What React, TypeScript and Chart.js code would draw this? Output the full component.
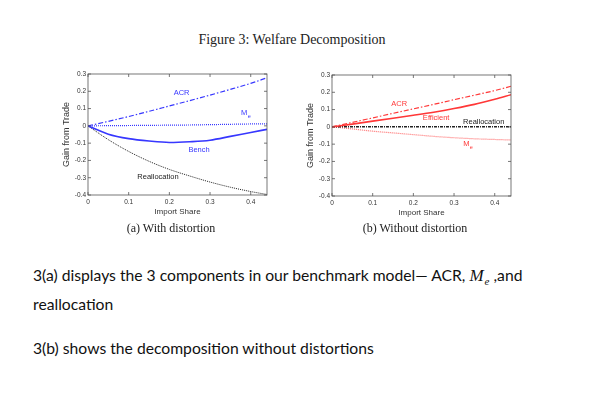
import React, { useEffect, useRef } from 'react';
import { Chart, registerables } from 'chart.js';

Chart.register(...registerables);

// ---------- data ----------
const IMPORT_SHARE = [0, 0.05, 0.1, 0.15, 0.2, 0.25, 0.3, 0.35, 0.4, 0.44];

// (a) With distortion
const A_ACR = [0, 0.026, 0.054, 0.084, 0.115, 0.146, 0.178, 0.211, 0.246, 0.278];
const A_ME = [0, 0.001, 0.002, 0.003, 0.004, 0.005, 0.007, 0.009, 0.011, 0.012];
const A_BENCH = [0, -0.048, -0.074, -0.088, -0.096, -0.092, -0.083, -0.061, -0.038, -0.02];
const A_REALLOC = [0, -0.08, -0.148, -0.205, -0.252, -0.29, -0.325, -0.355, -0.38, -0.397];

// (b) Without distortion
const B_ACR = [0, 0.026, 0.052, 0.078, 0.104, 0.13, 0.157, 0.183, 0.21, 0.235];
const B_EFF = [0, 0.016, 0.033, 0.05, 0.067, 0.085, 0.106, 0.13, 0.16, 0.186];
const B_REALLOC = [0, 0, 0, 0, 0, 0, 0, 0, 0, 0];
const B_ME = [0, -0.012, -0.025, -0.035, -0.045, -0.055, -0.063, -0.069, -0.073, -0.076];

const X_TICKS = [0, 0.1, 0.2, 0.3, 0.4];
const X_TICK_LABELS = ['0', '0.1', '0.2', '0.3', '0.4'];
const Y_TICKS = [-0.4, -0.3, -0.2, -0.1, 0, 0.1, 0.2, 0.3];
const Y_TICK_LABELS = ['-0.4', '-0.3', '-0.2', '-0.1', '0', '0.1', '0.2', '0.3'];
const X_MIN = 0;
const X_MAX = 0.44;
const Y_MIN = -0.4;
const Y_MAX = 0.3;

const BLUE = 'rgb(55,55,255)';
const RED = 'rgb(255,55,55)';
const LIGHT_RED = 'rgb(255,110,110)';
const BLACK = '#222';

const A_LABEL_TEXT = ['ACR', 'M', 'Bench', 'Reallocation'];
const A_LABEL_X = [0.23, 0.384, 0.273, 0.172];
const A_LABEL_Y = [0.188, 0.075, -0.137, -0.296];
const A_LABEL_SUB = ['', 'e', '', ''];
const A_LABEL_COLOR = [BLUE, BLUE, BLUE, BLACK];

const B_LABEL_TEXT = ['ACR', 'Efficient', 'Reallocation', 'M'];
const B_LABEL_X = [0.165, 0.256, 0.373, 0.33];
const B_LABEL_Y = [0.133, 0.054, 0.029, -0.1];
const B_LABEL_SUB = ['', '', '', 'e'];
const B_LABEL_COLOR = [RED, RED, BLACK, RED];

const SANS = '"Liberation Sans", Arial, sans-serif';

type Series = { values: number[]; color: string; width: number; dash: number[] };

const framePlugin = {
  id: 'frame',
  afterDatasetsDraw(chart: any) {
    const { ctx, chartArea: a, scales } = chart;
    ctx.save();
    ctx.strokeStyle = '#555';
    ctx.lineWidth = 0.8;
    ctx.strokeRect(a.left, a.top, a.right - a.left, a.bottom - a.top);
    ctx.beginPath();
    const tl = 3;
    X_TICKS.forEach((v) => {
      const px = scales.x.getPixelForValue(v);
      ctx.moveTo(px, a.bottom);
      ctx.lineTo(px, a.bottom - tl);
      ctx.moveTo(px, a.top);
      ctx.lineTo(px, a.top + tl);
    });
    Y_TICKS.forEach((v) => {
      const py = scales.y.getPixelForValue(v);
      ctx.moveTo(a.left, py);
      ctx.lineTo(a.left + tl, py);
      ctx.moveTo(a.right, py);
      ctx.lineTo(a.right - tl, py);
    });
    ctx.stroke();
    ctx.restore();
  },
};

function makeLabelPlugin(text: string[], xs: number[], ys: number[], subs: string[], colors: string[]) {
  return {
    id: 'curveLabels',
    afterDatasetsDraw(chart: any) {
      const { ctx, scales } = chart;
      ctx.save();
      ctx.textBaseline = 'middle';
      text.forEach((t, i) => {
        const px = scales.x.getPixelForValue(xs[i]);
        const py = scales.y.getPixelForValue(ys[i]);
        ctx.fillStyle = colors[i];
        ctx.font = `7.5px ${SANS}`;
        const w = ctx.measureText(t).width;
        ctx.textAlign = 'left';
        const startX = px - w / 2;
        ctx.fillText(t, startX, py);
        if (subs[i]) {
          ctx.font = `5.5px ${SANS}`;
          ctx.fillText(subs[i], startX + w + 0.5, py + 3.5);
        }
      });
      ctx.restore();
    },
  };
}

function Panel(props: {
  series: Series[];
  labelPlugin: any;
  left: number;
  top: number;
}) {
  const ref = useRef<HTMLCanvasElement | null>(null);
  useEffect(() => {
    if (!ref.current) return;
    const tickFont = { family: SANS, size: 6.5 };
    const chart = new Chart(ref.current, {
      type: 'line',
      data: {
        datasets: props.series.map((s) => ({
          data: IMPORT_SHARE.map((x, i) => ({ x, y: s.values[i] })),
          borderColor: s.color,
          borderWidth: s.width,
          borderDash: s.dash,
          pointRadius: 0,
          fill: false,
          cubicInterpolationMode: 'monotone' as const,
        })),
      },
      options: {
        animation: false,
        responsive: false,
        maintainAspectRatio: false,
        layout: { padding: { top: 10, right: 13, left: 0, bottom: 0 } },
        plugins: { legend: { display: false }, tooltip: { enabled: false } },
        scales: {
          x: {
            type: 'linear',
            min: X_MIN,
            max: X_MAX,
            afterBuildTicks: (s: any) => {
              s.ticks = X_TICKS.map((v) => ({ value: v }));
            },
            afterFit: (s: any) => {
              s.height = 29;
            },
            grid: { display: false, drawTicks: false },
            border: { display: false },
            ticks: {
              padding: 3,
              font: tickFont,
              color: '#333',
              maxRotation: 0,
              autoSkip: false,
              callback: (_v: any, i: number) => X_TICK_LABELS[i],
            },
            title: {
              display: true,
              text: 'Import Share',
              font: { family: SANS, size: 8 },
              color: '#333',
              padding: { top: 0, bottom: 7 },
            },
          },
          y: {
            type: 'linear',
            min: Y_MIN,
            max: Y_MAX,
            afterBuildTicks: (s: any) => {
              s.ticks = Y_TICKS.map((v) => ({ value: v }));
            },
            afterFit: (s: any) => {
              s.width = 38;
            },
            grid: { display: false, drawTicks: false },
            border: { display: false },
            ticks: {
              padding: 2,
              font: tickFont,
              color: '#333',
              autoSkip: false,
              callback: (_v: any, i: number) => Y_TICK_LABELS[i],
            },
            title: {
              display: true,
              text: 'Gain from Trade',
              font: { family: SANS, size: 9 },
              color: '#333',
              padding: { top: 11, bottom: 0 },
            },
          },
        },
      } as any,
      plugins: [framePlugin, props.labelPlugin],
    });
    return () => chart.destroy();
  }, []);
  return (
    <canvas
      ref={ref}
      width={230}
      height={160}
      style={{ position: 'absolute', left: props.left, top: props.top, width: 230, height: 160 }}
    />
  );
}

const seriesA: Series[] = [
  { values: A_ACR, color: BLUE, width: 1.2, dash: [5, 2, 1.5, 2] },
  { values: A_ME, color: BLUE, width: 1.2, dash: [1, 1] },
  { values: A_BENCH, color: BLUE, width: 1.6, dash: [] },
  { values: A_REALLOC, color: BLACK, width: 1, dash: [1, 1] },
];

const seriesB: Series[] = [
  { values: B_ACR, color: RED, width: 1.2, dash: [5, 2, 1.5, 2] },
  { values: B_EFF, color: RED, width: 1.6, dash: [] },
  { values: B_REALLOC, color: BLACK, width: 1.5, dash: [3, 1, 1, 1] },
  { values: B_ME, color: LIGHT_RED, width: 1.2, dash: [1, 1] },
];

const labelsA = makeLabelPlugin(A_LABEL_TEXT, A_LABEL_X, A_LABEL_Y, A_LABEL_SUB, A_LABEL_COLOR);
const labelsB = makeLabelPlugin(B_LABEL_TEXT, B_LABEL_X, B_LABEL_Y, B_LABEL_SUB, B_LABEL_COLOR);

export default function App() {
  const serif = '"Liberation Serif", "Times New Roman", serif';
  const body = 'Lato, "Open Sans", sans-serif';
  return (
    <div
      style={{
        position: 'absolute',
        left: 0,
        top: 0,
        width: 599,
        height: 394,
        background: '#fff',
        overflow: 'hidden',
      }}
    >
      <div
        style={{
          position: 'absolute',
          left: 0,
          top: 32,
          width: 584,
          textAlign: 'center',
          font: `14px ${serif}`,
          lineHeight: '16px',
          color: '#222',
        }}
      >
        Figure 3: Welfare Decomposition
      </div>
      <Panel series={seriesA} labelPlugin={labelsA} left={50} top={64} />
      <Panel series={seriesB} labelPlugin={labelsB} left={294} top={65} />
      <div
        style={{
          position: 'absolute',
          left: 71,
          top: 220,
          width: 200,
          textAlign: 'center',
          font: `12px ${serif}`,
          lineHeight: '16px',
          color: '#222',
        }}
      >
        (a) With distortion
      </div>
      <div
        style={{
          position: 'absolute',
          left: 315,
          top: 220,
          width: 200,
          textAlign: 'center',
          font: `12px ${serif}`,
          lineHeight: '16px',
          color: '#222',
        }}
      >
        (b) Without distortion
      </div>
      <div
        style={{
          position: 'absolute',
          left: 33,
          top: 261,
          font: `15.7px ${body}`,
          lineHeight: '28px',
          color: '#111',
          whiteSpace: 'nowrap',
        }}
      >
        3(a) displays the 3 components in our benchmark model— ACR,{' '}
        <span style={{ fontFamily: serif, fontStyle: 'italic', fontSize: '17px' }}>
          M
          <span
            style={{
              fontSize: '11px',
              position: 'relative',
              top: '4px',
              lineHeight: 0,
              marginLeft: '1px',
            }}
          >
            e
          </span>
        </span>
        {' '},and
        <br />
        reallocation
      </div>
      <div
        style={{
          position: 'absolute',
          left: 33,
          top: 334,
          font: `15.7px ${body}`,
          lineHeight: '28px',
          color: '#111',
          whiteSpace: 'nowrap',
        }}
      >
        3(b) shows the decomposition without distortions
      </div>
    </div>
  );
}
